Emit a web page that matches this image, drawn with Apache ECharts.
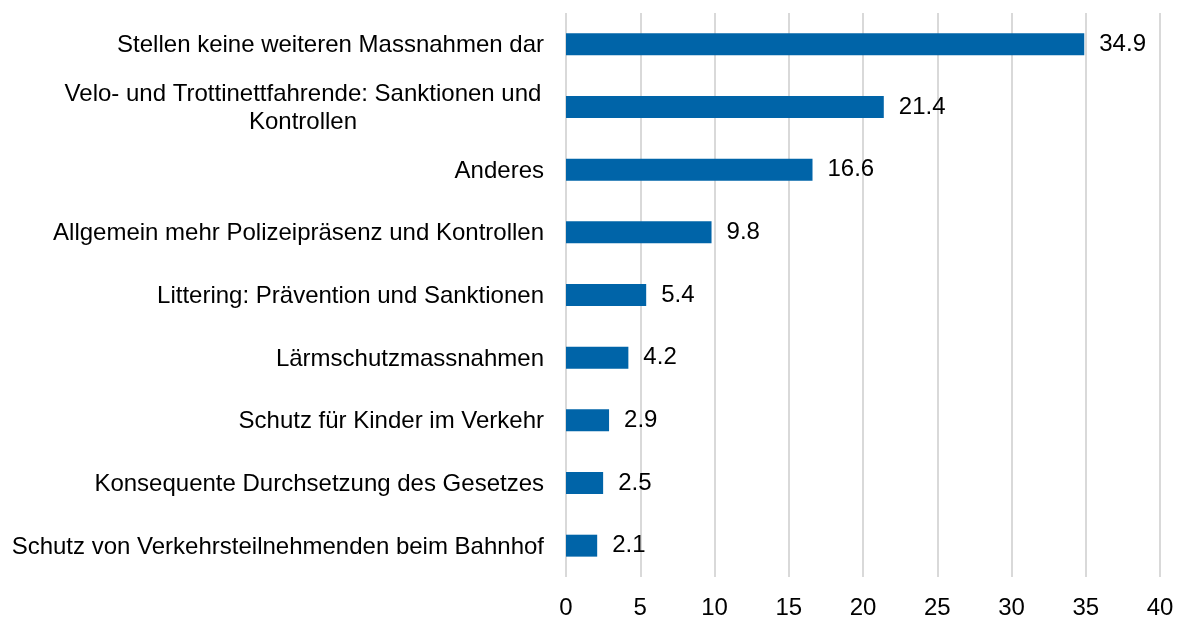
<!DOCTYPE html>
<html>
<head>
<meta charset="utf-8">
<script src="https://cdn.jsdelivr.net/npm/echarts@6/dist/echarts.min.js"></script>
<style>
  html, body { margin: 0; padding: 0; background: #fff; }
  #main { width: 1180px; height: 617px; }
</style>
</head>
<body>
<div id="main"></div>
<script>
// categories from top to bottom
var categories = [
  'Stellen keine weiteren Massnahmen dar',
  'Velo- und Trottinettfahrende: Sanktionen und\nKontrollen',
  'Anderes',
  'Allgemein mehr Polizeipräsenz und Kontrollen',
  'Littering: Prävention und Sanktionen',
  'Lärmschutzmassnahmen',
  'Schutz für Kinder im Verkehr',
  'Konsequente Durchsetzung des Gesetzes',
  'Schutz von Verkehrsteilnehmenden beim Bahnhof'
];
var values = [34.9, 21.4, 16.6, 9.8, 5.4, 4.2, 2.9, 2.5, 2.1];
var xTicks = [0, 5, 10, 15, 20, 25, 30, 35, 40];

var font = 'Liberation Sans, Arial, sans-serif';
var fs = 24;
var myChart = echarts.init(document.getElementById('main'));

var option = {
  animation: false,
  grid: { left: 566, right: 20, top: 13, bottom: 40, containLabel: false, outerBoundsMode: 'none' },
  xAxis: {
    type: 'value',
    min: xTicks[0],
    max: xTicks[xTicks.length - 1],
    interval: 5,
    axisLine: { show: false },
    axisTick: { show: false },
    axisLabel: { color: '#000', fontSize: fs, fontFamily: font, margin: 19 },
    splitLine: { lineStyle: { color: '#d9d9d9', width: 2 } }
  },
  yAxis: {
    type: 'category',
    inverse: true,
    data: categories,
    axisLine: { show: false },
    axisTick: { show: false },
    axisLabel: {
      color: '#000',
      fontSize: fs,
      fontFamily: font,
      margin: 22,
      lineHeight: 28,
      padding: [3, 0, 0, 0],
      formatter: function (v) {
        if (v.indexOf('\n') >= 0) {
          return v.split('\n').map(function (s) { return '{c|' + s + '}'; }).join('\n');
        }
        return v;
      },
      rich: {
        c: { width: 482, align: 'center', fontSize: fs, fontFamily: font, color: '#000', lineHeight: 28 }
      }
    }
  },
  series: [{
    type: 'bar',
    data: values,
    barWidth: '35%',
    itemStyle: { color: '#0064a8' },
    label: {
      show: true,
      position: 'right',
      distance: 15,
      color: '#000',
      fontSize: fs,
      fontFamily: font,
      formatter: function (p) { return p.value.toFixed(1); }
    }
  }]
};

myChart.setOption(option);
</script>
</body>
</html>
